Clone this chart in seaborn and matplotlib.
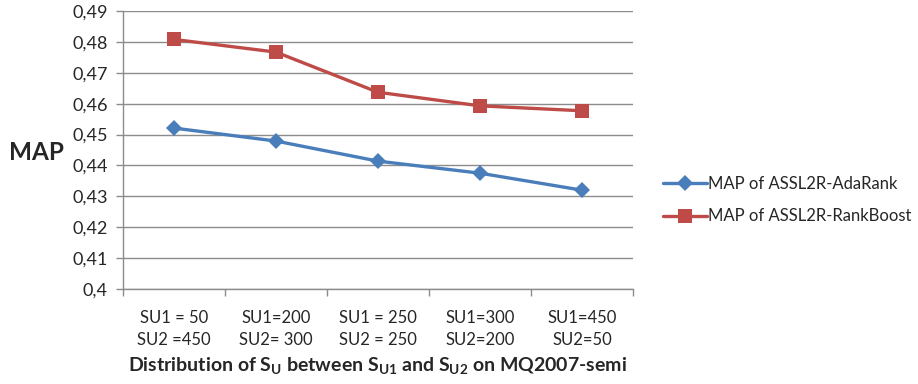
import matplotlib
matplotlib.use("Agg")
import matplotlib.pyplot as plt
import seaborn as sns
import pandas as pd
import numpy as np
from matplotlib.ticker import FixedLocator, FuncFormatter

categories = ["SU1 = 50\nSU2 =450", "SU1=200\nSU2= 300", "SU1 = 250\nSU2 = 250",
              "SU1=300\nSU2=200", "SU1=450\nSU2=50"]
adarank = [0.4521, 0.4479, 0.4414, 0.4375, 0.4320]
rankboost = [0.4808, 0.4767, 0.4637, 0.4593, 0.4577]
series_names = ["MAP of ASSL2R-AdaRank", "MAP of ASSL2R-RankBoost"]
yticks = [0.40, 0.41, 0.42, 0.43, 0.44, 0.45, 0.46, 0.47, 0.48, 0.49]

sns.set_theme(style="white")
plt.rcParams['font.family'] = ['Lato', 'DejaVu Sans']
plt.rcParams['mathtext.fontset'] = 'custom'
plt.rcParams['mathtext.rm'] = 'Lato:bold'
plt.rcParams['mathtext.bf'] = 'Lato:bold'
plt.rcParams['mathtext.it'] = 'Lato:bold'

df = pd.DataFrame({
    "idx": list(range(len(categories))) * 2,
    "MAP": adarank + rankboost,
    "series": [series_names[0]] * len(categories) + [series_names[1]] * len(categories),
})

fig = plt.figure(figsize=(9.18, 3.84), dpi=100)
ax = fig.add_axes([0.134, 0.2474, 0.5555, 0.7239])

palette = {series_names[0]: "#4A7EBB", series_names[1]: "#BE4B48"}
sns.lineplot(data=df, x="idx", y="MAP", hue="series", style="series",
             markers={series_names[0]: "D", series_names[1]: "s"},
             dashes=False, palette=palette, linewidth=2.4, ax=ax,
             markersize=9, markeredgewidth=0)
for line in ax.get_lines():
    if line.get_marker() == "D":
        line.set_markersize(8.5)
    elif line.get_marker() == "s":
        line.set_markersize(10.5)

ax.set_xlim(-0.5, len(categories) - 0.5)
ax.set_ylim(0.40, 0.49)
ax.set_yticks(yticks)
ax.yaxis.set_major_formatter(FuncFormatter(
    lambda v, p: "0,4" if abs(v - 0.4) < 1e-9 else ("%.2f" % v).replace(".", ",")))
ax.grid(axis="y", color="#8C8C8C", linewidth=1.0)
ax.set_axisbelow(True)

ax.set_xticks(range(len(categories)))
ax.set_xticklabels(categories, fontsize=12, linespacing=1.5)
ax.xaxis.set_minor_locator(FixedLocator(np.arange(-0.5, len(categories), 1.0)))
ax.tick_params(axis="x", which="major", length=0, pad=15)
ax.tick_params(axis="x", which="minor", length=5, color="#8C8C8C", width=1, direction="out", bottom=True)
ax.tick_params(axis="y", which="major", length=5, color="#8C8C8C", width=1, direction="out", left=True, labelsize=13, pad=6)

for side in ["top", "right"]:
    ax.spines[side].set_visible(False)
for side in ["left", "bottom"]:
    ax.spines[side].set_color("#8C8C8C")
    ax.spines[side].set_linewidth(1.0)

ax.set_ylabel("MAP", fontsize=17.5, fontweight="bold", rotation=0, va="center", ha="center")
ax.yaxis.set_label_coords(-0.17, 0.49)
ax.set_xlabel(r"Distribution of $\mathrm{S_U}$ between $\mathrm{S_{U1}}$ and $\mathrm{S_{U2}}$ on MQ2007-semi",
              fontsize=14, fontweight="bold", labelpad=5)

handles, labels = ax.get_legend_handles_labels()
leg = ax.legend(handles, labels, loc="center left", bbox_to_anchor=(1.03, 0.32),
                frameon=False, fontsize=12, handlelength=2.6, handletextpad=0.1,
                labelspacing=1.0)

fig.savefig("out.png", dpi=100)
